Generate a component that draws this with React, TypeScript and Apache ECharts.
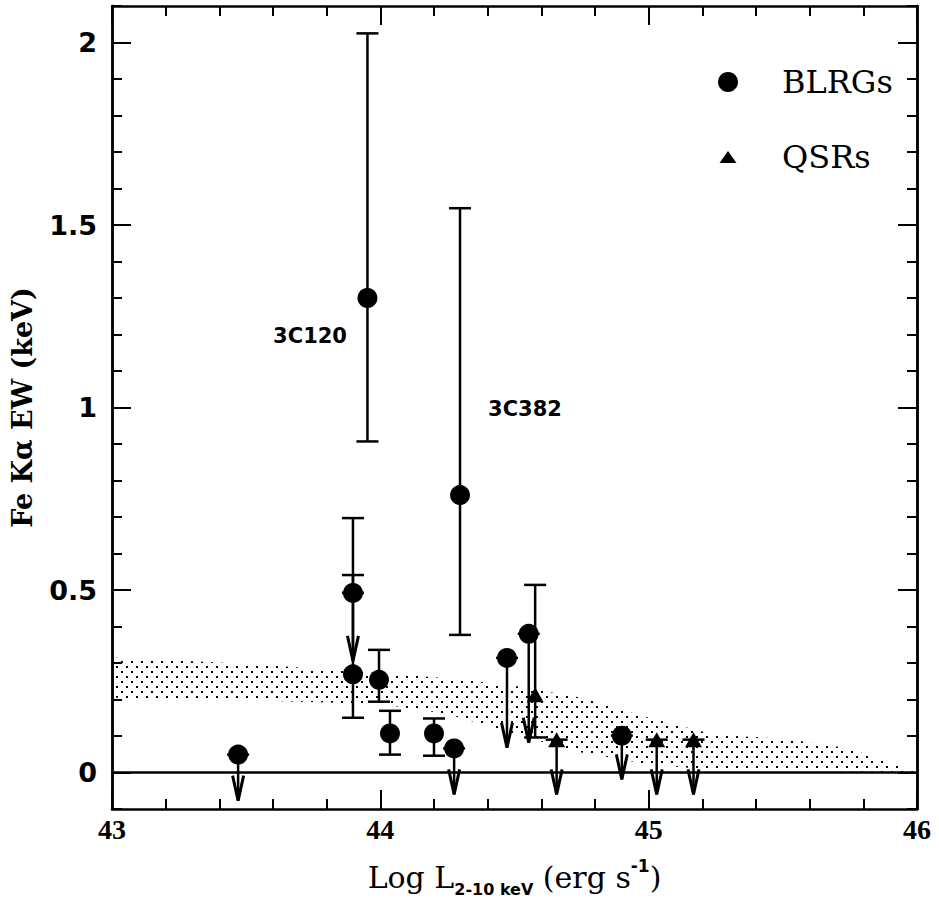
import React, { useEffect, useRef } from "react";
import * as echarts from "echarts";

// ---- data ----
const blrgX = [43.47, 43.952, 43.898, 43.898, 43.995, 44.036, 44.2, 44.275, 44.297, 44.472, 44.553, 44.9];
const blrgY = [0.049, 1.3, 0.492, 0.269, 0.254, 0.107, 0.107, 0.066, 0.76, 0.314, 0.38, 0.101];
const blrgLo: (number | null)[] = [null, 0.907, 0.492, 0.15, 0.194, 0.049, 0.046, null, 0.377, null, null, null];
const blrgHi: (number | null)[] = [null, 2.025, 0.697, 0.541, 0.336, 0.169, 0.148, null, 1.546, null, null, null];
const blrgLimitTo: (number | null)[] = [-0.077, null, 0.306, null, null, null, null, -0.06, null, 0.068, 0.082, -0.019];

const qsrX = [44.577, 44.657, 45.03, 45.167];
const qsrY = [0.213, 0.09, 0.09, 0.09];
const qsrLo: (number | null)[] = [0.096, null, null, null];
const qsrHi: (number | null)[] = [0.514, null, null, null];
const qsrLimitTo: (number | null)[] = [null, -0.06, -0.06, -0.06];

const bandX = [43.0, 43.5, 44.0, 44.25, 44.5, 44.75, 45.0, 45.25, 45.5, 45.75, 46.0];
const bandUpper = [0.315, 0.298, 0.272, 0.258, 0.238, 0.205, 0.15, 0.103, 0.093, 0.066, 0.0];
const bandLower = [0.205, 0.198, 0.188, 0.16, 0.105, 0.055, 0.022, 0.007, 0.005, 0.003, 0.0];

const annText = ["3C120", "3C382"];
const annX = [43.738, 44.539];
const annY = [1.197, 0.997];

const xTicks = [43, 44, 45, 46];
const yMajorTicks = [0, 0.5, 1, 1.5, 2];
const yMinorTicks = [-0.1, 0, 0.1, 0.2, 0.3, 0.4, 0.5, 0.6, 0.7, 0.8, 0.9, 1, 1.1, 1.2, 1.3, 1.4, 1.5, 1.6, 1.7, 1.8, 1.9, 2, 2.1];

const legendNames = ["BLRGs", "QSRs"];

export default function App() {
  const ref = useRef<HTMLDivElement>(null);
  useEffect(() => {
    if (!ref.current) return;
    const chart = echarts.init(ref.current, null, { renderer: "svg" });

    const canvas = document.createElement("canvas");
    canvas.width = 10;
    canvas.height = 10;
    const ctx = canvas.getContext("2d")!;
    ctx.fillStyle = "#000";
    ctx.fillRect(1, 1, 2, 2);
    ctx.fillRect(6, 6, 2, 2);
    const dotPattern: any = { image: canvas, repeat: "repeat" };

    type Rec = { x: number; y: number; lo: number | null; hi: number | null; lim: number | null };
    const recs: Rec[] = [];
    blrgX.forEach((x, i) => recs.push({ x, y: blrgY[i], lo: blrgLo[i], hi: blrgHi[i], lim: blrgLimitTo[i] }));
    qsrX.forEach((x, i) => recs.push({ x, y: qsrY[i], lo: qsrLo[i], hi: qsrHi[i], lim: qsrLimitTo[i] }));

    const lineStyle = { stroke: "#000", lineWidth: 2.5, fill: "none" };
    const capHalf = 11;

    const serif = "'DejaVu Serif', serif";
    const sans = "'DejaVu Sans', sans-serif";

    const yMain = {
      type: "value",
      min: -0.1,
      max: 2.1,
      splitLine: { show: false },
      axisLine: { show: true, onZero: false, lineStyle: { color: "#000", width: 2.5 } },
    };

    const option: any = {
      animation: false,
      grid: { left: 112, top: 6, width: 805, height: 806, containLabel: false },
      xAxis: [
        {
          type: "value",
          min: xTicks[0],
          max: xTicks[xTicks.length - 1],
          interval: 1,
          position: "bottom",
          splitLine: { show: false },
          axisLine: { onZero: false, lineStyle: { color: "#000", width: 2.5 } },
          axisTick: { inside: true, length: 19, lineStyle: { color: "#000", width: 2 } },
          minorTick: { show: true, splitNumber: 5, length: 10, lineStyle: { color: "#000", width: 2 } },
          axisLabel: { color: "#000", fontSize: 28, fontWeight: "bold", fontFamily: "Liberation Serif", margin: 6 },
          name: "{m|Log L}{sub|2-10 keV}{m| (erg s}{sup|-1}{m|)}",
          nameLocation: "middle",
          nameGap: 48,
          nameTextStyle: {
            color: "#000",
            rich: {
              m: { fontSize: 30, fontFamily: serif, color: "#000", lineHeight: 40, verticalAlign: "middle" },
              sub: { fontSize: 16, fontFamily: sans, fontWeight: "bold", color: "#000", lineHeight: 16, verticalAlign: "bottom" },
              sup: { fontSize: 17, fontFamily: sans, fontWeight: "bold", color: "#000", lineHeight: 18, verticalAlign: "top" },
            },
          },
        },
        {
          type: "value",
          min: xTicks[0],
          max: xTicks[xTicks.length - 1],
          interval: 1,
          position: "top",
          splitLine: { show: false },
          axisLine: { onZero: false, lineStyle: { color: "#000", width: 2.5 } },
          axisTick: { inside: true, length: 19, lineStyle: { color: "#000", width: 2 } },
          minorTick: { show: true, splitNumber: 5, length: 10, lineStyle: { color: "#000", width: 2 } },
          axisLabel: { show: false },
        },
      ],
      yAxis: [
        {
          ...yMain,
          position: "left",
          axisTick: { inside: true, length: 19, customValues: yMajorTicks, lineStyle: { color: "#000", width: 2 } },
          axisLabel: {
            customValues: yMajorTicks,
            color: "#000",
            fontSize: 27,
            fontWeight: "bold",
            fontFamily: sans,
            margin: 15,
          },
          name: "Fe Kα EW (keV)",
          nameLocation: "middle",
          nameGap: 76,
          nameTextStyle: { color: "#000", fontSize: 27, fontWeight: "bold", fontFamily: serif },
        },
        {
          ...yMain,
          position: "left",
          axisTick: { inside: true, length: 10, customValues: yMinorTicks, lineStyle: { color: "#000", width: 2 } },
          axisLabel: { show: false },
        },
        {
          ...yMain,
          position: "right",
          axisTick: { inside: true, length: 19, customValues: yMajorTicks, lineStyle: { color: "#000", width: 2 } },
          axisLabel: { show: false },
        },
        {
          ...yMain,
          position: "right",
          axisTick: { inside: true, length: 10, customValues: yMinorTicks, lineStyle: { color: "#000", width: 2 } },
          axisLabel: { show: false },
        },
      ],
      series: [
        {
          type: "custom",
          name: "band",
          silent: true,
          z: 1,
          data: [[bandX[0], bandUpper[0]]],
          renderItem: (_p: any, api: any) => {
            const pts: number[][] = [];
            for (let i = 0; i < bandX.length; i++) pts.push(api.coord([bandX[i], bandUpper[i]]));
            for (let i = bandX.length - 1; i >= 0; i--) pts.push(api.coord([bandX[i], bandLower[i]]));
            return { type: "polygon", shape: { points: pts }, style: { fill: dotPattern, stroke: null } };
          },
        },
        {
          type: "custom",
          name: "errors",
          silent: true,
          z: 3,
          clip: false,
          data: recs.map((r) => [r.x, r.y]),
          renderItem: (params: any, api: any) => {
            const r = recs[params.dataIndex];
            const children: any[] = [];
            const line = (a: number[], b: number[]) =>
              children.push({ type: "line", shape: { x1: a[0], y1: a[1], x2: b[0], y2: b[1] }, style: lineStyle });
            const cap = (v: number) => {
              const c = api.coord([r.x, v]);
              line([c[0] - capHalf, c[1]], [c[0] + capHalf, c[1]]);
            };
            if (r.lo != null && r.hi != null) {
              line(api.coord([r.x, r.lo]), api.coord([r.x, r.hi]));
              cap(r.lo);
              cap(r.hi);
            }
            if (r.lim != null) {
              const p = api.coord([r.x, r.y]);
              const t = api.coord([r.x, r.lim]);
              cap(r.y);
              line(p, t);
              children.push({
                type: "polyline",
                shape: { points: [[t[0] - 5.5, t[1] - 25], [t[0], t[1]], [t[0] + 5.5, t[1] - 25]] },
                style: { stroke: "#000", lineWidth: 3, fill: "none", lineJoin: "miter" },
              });
            }
            return { type: "group", children };
          },
        },
        {
          type: "scatter",
          name: legendNames[0],
          symbol: "circle",
          symbolSize: 20,
          z: 4,
          itemStyle: { color: "#000", opacity: 1 },
          data: blrgX.map((x, i) => [x, blrgY[i]]),
          markLine: {
            silent: true,
            symbol: "none",
            label: { show: false },
            lineStyle: { color: "#000", width: 2.5, type: "solid" },
            data: [{ yAxis: 0 }],
          },
        },
        {
          type: "scatter",
          name: legendNames[1],
          symbol: "triangle",
          symbolSize: [17, 15],
          z: 4,
          itemStyle: { color: "#000", opacity: 1 },
          data: qsrX.map((x, i) => [x, qsrY[i]]),
        },
        {
          type: "custom",
          name: "labels",
          silent: true,
          z: 5,
          data: annX.map((x, i) => [x, annY[i]]),
          renderItem: (params: any, api: any) => {
            const c = api.coord([annX[params.dataIndex], annY[params.dataIndex]]);
            return {
              type: "text",
              x: c[0],
              y: c[1],
              style: {
                text: annText[params.dataIndex],
                fill: "#000",
                font: "bold 21px 'DejaVu Sans', sans-serif",
                align: "center",
                verticalAlign: "middle",
              },
            };
          },
        },
      ],
      graphic: [
        { type: "circle", shape: { cx: 728, cy: 82, r: 10 }, style: { fill: "#000" } },
        {
          type: "text",
          x: 782,
          y: 82,
          style: { text: legendNames[0], fill: "#000", font: "32px 'DejaVu Serif', serif", verticalAlign: "middle", align: "left" },
        },
        { type: "polygon", shape: { points: [[719.5, 163], [736.5, 163], [728, 151]] }, style: { fill: "#000" } },
        {
          type: "text",
          x: 782,
          y: 157,
          style: { text: legendNames[1], fill: "#000", font: "32px 'DejaVu Serif', serif", verticalAlign: "middle", align: "left" },
        },
      ],
    };
    chart.setOption(option);
    return () => chart.dispose();
  }, []);
  return <div ref={ref} style={{ position: "fixed", left: 0, top: 0, width: 939, height: 902, background: "#fff" }} />;
}
